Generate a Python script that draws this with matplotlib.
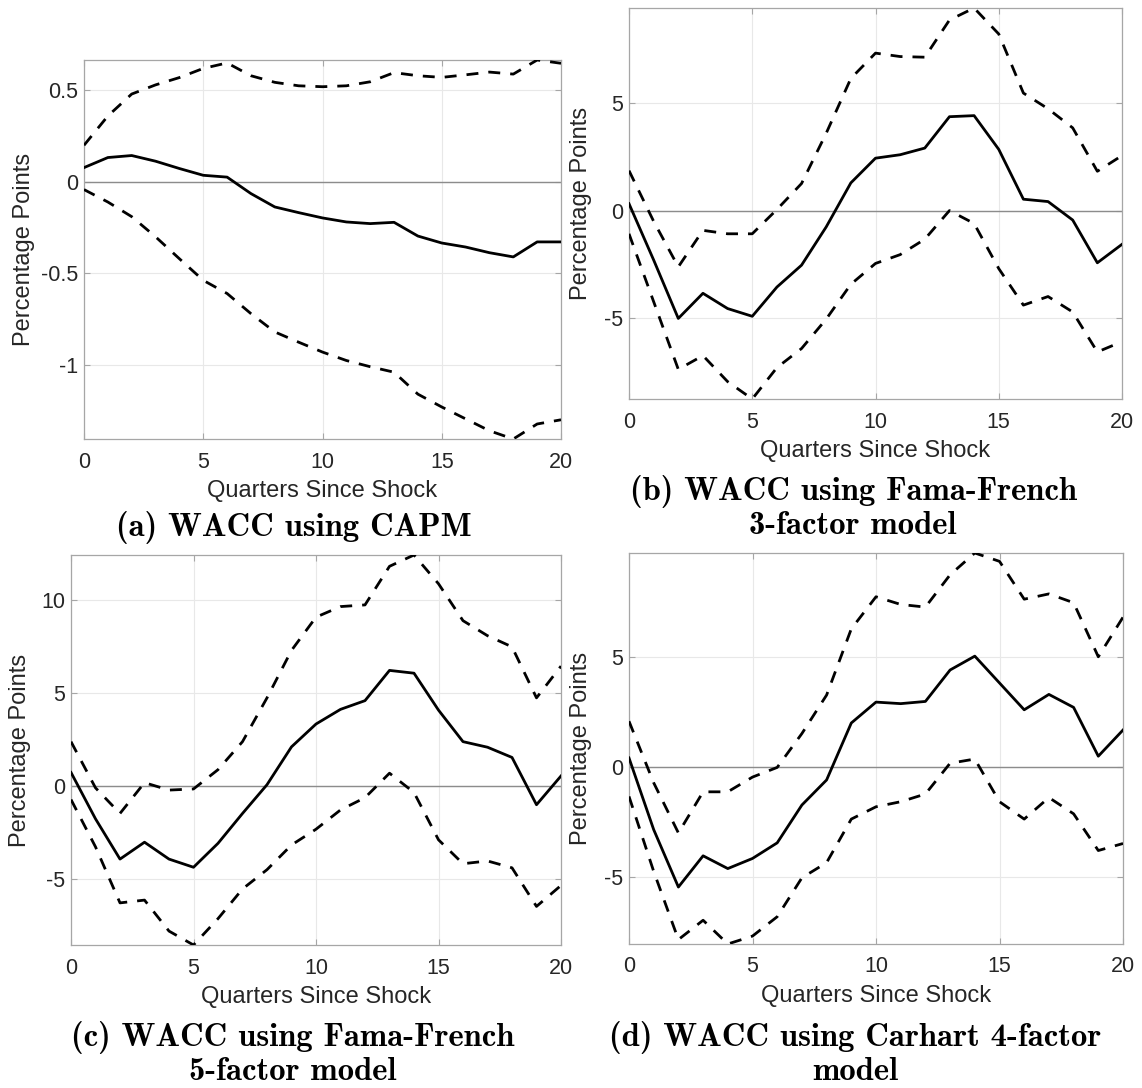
import matplotlib
matplotlib.use("Agg")
import matplotlib.pyplot as plt

plt.rcParams['axes.unicode_minus'] = False
plt.rcParams['font.family'] = ['Liberation Sans', 'DejaVu Sans']

quarters = list(range(21))

# (a) CAPM
capm_mid = [0.078, 0.133, 0.144, 0.113, 0.073, 0.036, 0.026, -0.064, -0.137, -0.168, -0.197,
            -0.219, -0.228, -0.221, -0.296, -0.334, -0.356, -0.387, -0.41, -0.328, -0.328]
capm_up = [0.20, 0.36, 0.48, 0.53, 0.57, 0.62, 0.65, 0.58, 0.544, 0.525, 0.52,
           0.525, 0.547, 0.597, 0.58, 0.571, 0.585, 0.60, 0.589, 0.666, 0.648]
capm_lo = [-0.042, -0.11, -0.19, -0.30, -0.42, -0.538, -0.61, -0.72, -0.82, -0.876, -0.93,
           -0.976, -1.01, -1.04, -1.16, -1.23, -1.295, -1.36, -1.405, -1.323, -1.30]

# (b) Fama-French 3-factor
ff3_mid = [0.32, -2.3, -5.02, -3.85, -4.56, -4.92, -3.56, -2.54, -0.76, 1.29, 2.44,
           2.6, 2.91, 4.37, 4.42, 2.85, 0.53, 0.42, -0.44, -2.43, -1.57]
ff3_up = [1.86, -0.5, -2.62, -0.92, -1.08, -1.08, 0.05, 1.26, 3.6, 6.15, 7.33,
          7.17, 7.14, 8.87, 9.43, 8.22, 5.47, 4.74, 3.85, 1.83, 2.56]
ff3_lo = [-1.08, -4.24, -7.39, -6.75, -7.96, -8.77, -7.31, -6.42, -5.05, -3.43, -2.46,
          -2.05, -1.33, 0.0, -0.6, -2.7, -4.4, -4.0, -4.72, -6.58, -6.1]

# (c) Fama-French 5-factor
ff5_mid = [0.72, -1.78, -3.95, -3.04, -3.95, -4.39, -3.1, -1.49, 0.06, 2.1, 3.33,
           4.12, 4.59, 6.22, 6.07, 4.08, 2.38, 2.08, 1.53, -1.02, 0.53]
ff5_up = [2.38, -0.11, -1.49, 0.17, -0.23, -0.17, 0.87, 2.38, 4.74, 7.3, 9.09,
          9.66, 9.75, 11.83, 12.44, 10.89, 8.9, 8.09, 7.49, 4.74, 6.45]
ff5_lo = [-0.74, -3.29, -6.31, -6.16, -7.83, -8.58, -7.16, -5.56, -4.52, -3.19, -2.34,
          -1.3, -0.64, 0.68, -0.36, -2.91, -4.2, -4.05, -4.42, -6.5, -5.37]

# (d) Carhart 4-factor
c4_mid = [0.43, -2.83, -5.44, -4.02, -4.6, -4.14, -3.43, -1.71, -0.57, 2.02, 2.97,
          2.9, 3.0, 4.43, 5.06, 3.84, 2.62, 3.32, 2.73, 0.51, 1.7]
c4_up = [2.1, -0.7, -2.98, -1.11, -1.11, -0.44, 0.0, 1.54, 3.29, 6.3, 7.76,
         7.41, 7.29, 8.76, 9.75, 9.37, 7.65, 7.89, 7.49, 5.03, 6.83]
c4_lo = [-1.32, -4.73, -7.83, -6.95, -8.03, -7.67, -6.79, -5.02, -4.33, -2.35, -1.79,
         -1.56, -1.21, 0.19, 0.38, -1.56, -2.35, -1.37, -2.11, -3.78, -3.46]

x_ticks = [0, 5, 10, 15, 20]
yticks_a = [-1, -0.5, 0, 0.5]
yticks_b = [-5, 0, 5]
yticks_c = [-5, 0, 5, 10]
yticks_d = [-5, 0, 5]

captions = {
    'a': ["(a) WACC using CAPM"],
    'b': ["(b) WACC using Fama-French", "3-factor model"],
    'c': ["(c) WACC using Fama-French", "5-factor model"],
    'd': ["(d) WACC using Carhart 4-factor", "model"],
}

W, H = 1142, 1088
fig = plt.figure(figsize=(W / 100, H / 100), dpi=100)


def rect(l, t, r, b):
    return [l / W, 1 - b / H, (r - l) / W, (b - t) / H]


TXT = '#262626'
DASH = (0, (4.3, 3.6))


def panel(box, mid, up, lo, yticks, ylab_dx):
    ax = fig.add_axes(rect(*box))
    ax.axhline(0, color='#8c8c8c', lw=1.0, zorder=2)
    ax.plot(quarters, up, color='black', lw=2.0, ls=DASH, zorder=3)
    ax.plot(quarters, lo, color='black', lw=2.0, ls=DASH, zorder=3)
    ax.plot(quarters, mid, color='black', lw=2.0, zorder=4)
    ax.set_xlim(0, 20)
    allv = up + lo + mid
    ax.set_ylim(min(allv), max(allv))
    ax.set_xticks(x_ticks)
    ax.set_yticks(yticks)
    ax.set_yticklabels([('%g' % v) for v in yticks])
    ax.grid(True, color='#e8e8e8', lw=0.8)
    ax.set_axisbelow(True)
    for s in ax.spines.values():
        s.set_color('#a6a6a6')
        s.set_linewidth(0.9)
    ax.tick_params(direction='in', length=4, width=0.8, color='#a6a6a6',
                   labelcolor=TXT, labelsize=15.5, top=True, right=True)
    ax.tick_params(axis='x', pad=9)
    ax.tick_params(axis='y', pad=4)
    ax.set_xlabel('Quarters Since Shock', fontsize=17, color=TXT, va='center')
    ax.xaxis.set_label_coords(0.5, -52 / (box[3] - box[1]))
    ax.set_ylabel('Percentage Points', fontsize=17, color=TXT, va='center')
    ax.yaxis.set_label_coords(-ylab_dx / (box[2] - box[0]), 0.5)
    return ax


panel((84, 60, 561, 439), capm_mid, capm_up, capm_lo, yticks_a, 60)
panel((629, 8, 1122, 399), ff3_mid, ff3_up, ff3_lo, yticks_b, 48)
panel((71, 555, 561, 945), ff5_mid, ff5_up, ff5_lo, yticks_c, 51)
panel((629, 553, 1123, 944), c4_mid, c4_up, c4_lo, yticks_d, 48)

cap_pos = {'a': (294, [527]), 'b': (853, [491, 526]),
           'c': (293, [1038, 1071]), 'd': (855, [1038, 1071])}
for k, (cx, ys) in cap_pos.items():
    for line, y in zip(captions[k], ys):
        fig.text(cx / W, 1 - y / H, line, ha='center', va='center',
                 family='cmb10', fontsize=23.5, color='black')

fig.savefig('out.png', dpi=100)
